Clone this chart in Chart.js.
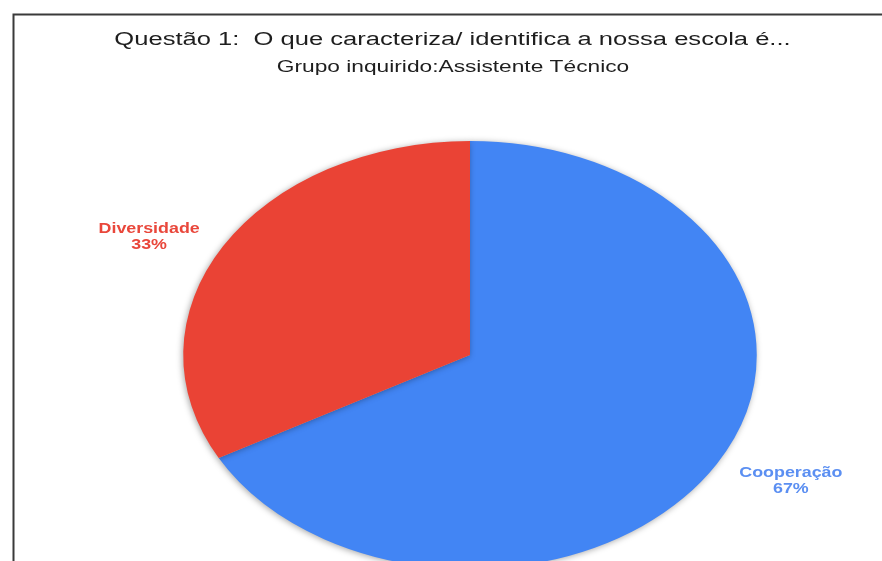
<!DOCTYPE html>
<html>
<head>
<meta charset="utf-8">
<script src="https://cdn.jsdelivr.net/npm/chart.js@4"></script>
<style>
  html, body { margin: 0; padding: 0; background: #fff; overflow: hidden; }
  canvas { display: block; }
</style>
</head>
<body>
<canvas id="pieChart" width="882" height="580"></canvas>
<script>
const titleText = "Questão 1:  O que caracteriza/ identifica a nossa escola é...";
const subtitleText = "Grupo inquirido:Assistente Técnico";
const categories = ["Cooperação", "Diversidade"];
const values = [67, 33];
const colors = ["#4285f4", "#ea4335"];
const labelColors = ["#5b8ff2", "#e9473b"];

// the reference pie is squashed into an ellipse, stretch it sideways
const STRETCH = 1.34;

function stretchedText(ctx, text, x, y, font, color, sx) {
  ctx.save();
  ctx.translate(x, y);
  ctx.scale(sx, 1);
  ctx.font = font;
  ctx.fillStyle = color;
  ctx.textAlign = "center";
  ctx.textBaseline = "alphabetic";
  ctx.fillText(text, 0, 0);
  ctx.restore();
}

/* ===== frame + titles ===== */
const framePlugin = {
  id: "frame",
  beforeDraw(chart) {
    const ctx = chart.ctx;
    ctx.save();
    ctx.fillStyle = "#fff";
    ctx.fillRect(0, 0, chart.width, chart.height);
    ctx.strokeStyle = "#3a3a3a";
    ctx.lineWidth = 2;
    ctx.beginPath();
    ctx.moveTo(13.5, 600);
    ctx.lineTo(13.5, 14.5);
    ctx.lineTo(882, 14.5);
    ctx.stroke();
    ctx.restore();

    stretchedText(ctx, titleText, 452.5, 45, "18px Arial, 'Liberation Sans', sans-serif", "#1e1e1e", 1.42);
    stretchedText(ctx, subtitleText, 453, 72, "16px Arial, 'Liberation Sans', sans-serif", "#1e1e1e", 1.42);
  }
};

/* ===== elliptical pie with soft shadow ===== */
const stretchPlugin = {
  id: "stretch",
  beforeDatasetsDraw(chart) {
    const arc = chart.getDatasetMeta(0).data[0];
    const ctx = chart.ctx;
    ctx.save();
    ctx.translate(arc.x, arc.y);
    ctx.scale(STRETCH, 1);
    ctx.translate(-arc.x, -arc.y);
    ctx.shadowColor = "rgba(0,0,0,0.35)";
    ctx.shadowBlur = 6;
    ctx.shadowOffsetX = -1;
    ctx.shadowOffsetY = 1;
  },
  afterDatasetsDraw(chart) {
    chart.ctx.restore();

    // outside labels
    const ctx = chart.ctx;
    chart.getDatasetMeta(0).data.forEach((arc, i) => {
      const mid = (arc.startAngle + arc.endAngle) / 2;
      const x = arc.x + Math.cos(mid) * arc.outerRadius * STRETCH * 1.3;
      const y = arc.y + Math.sin(mid) * arc.outerRadius * 1.12;
      const font = "bold 15px Arial, 'Liberation Sans', sans-serif";
      stretchedText(ctx, categories[i], x, y, font, labelColors[i], 1.19);
      stretchedText(ctx, values[i] + "%", x, y + 16, font, labelColors[i], 1.19);
    });
  }
};

new Chart(document.getElementById("pieChart"), {
  type: "pie",
  data: {
    labels: categories,
    datasets: [{
      data: values,
      backgroundColor: colors,
      borderWidth: 0
    }]
  },
  options: {
    responsive: false,
    animation: false,
    layout: { padding: { left: 256, right: 198, top: 141, bottom: 11 } },
    plugins: {
      legend: { display: false },
      tooltip: { enabled: false }
    }
  },
  plugins: [framePlugin, stretchPlugin]
});
</script>
</body>
</html>
